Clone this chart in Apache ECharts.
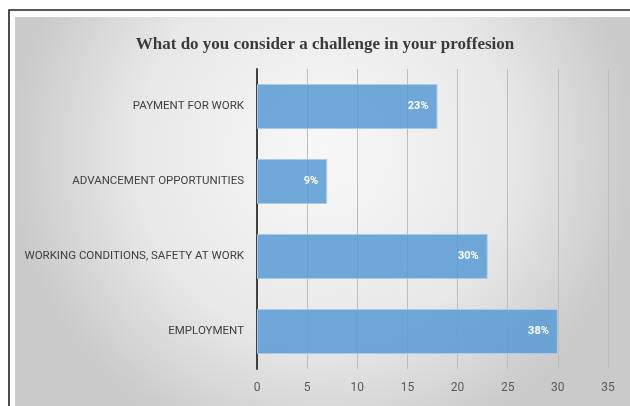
<!DOCTYPE html>
<html>
<head>
<meta charset="utf-8">
<script src="https://cdn.jsdelivr.net/npm/echarts@6/dist/echarts.min.js"></script>
<style>
  html, body { margin: 0; padding: 0; background: #ffffff; }
  #chart { width: 630px; height: 406px; }
</style>
</head>
<body>
<div id="chart"></div>
<script>
// Survey answers: how many respondents named each challenge
const categories = [
  'PAYMENT FOR WORK',
  'ADVANCEMENT OPPORTUNITIES',
  'WORKING CONDITIONS, SAFETY AT WORK',
  'EMPLOYMENT'
];
const counts = [18, 7, 23, 30];
// Share of all answers shown inside each bar
const shares = ['23%', '9%', '30%', '38%'];
const axisTicks = [0, 5, 10, 15, 20, 25, 30, 35];

const labelFont = 'Roboto, "DejaVu Sans Condensed", sans-serif';

const chart = echarts.init(document.getElementById('chart'), null, { renderer: 'canvas' });

chart.setOption({
  backgroundColor: '#ffffff',
  animation: false,
  graphic: [
    {
      type: 'rect',
      z: -10,
      silent: true,
      shape: { x: 15, y: 17, width: 615, height: 389 },
      style: {
        fill: {
          type: 'radial', x: 0.5, y: 0.35, r: 0.8,
          colorStops: [
            { offset: 0, color: '#f8f8f8' },
            { offset: 0.6, color: '#e8e8e8' },
            { offset: 1, color: '#cacaca' }
          ]
        }
      }
    },
    {
      type: 'polyline',
      z: -9,
      silent: true,
      shape: { points: [[9, 406], [9, 10], [630, 10]] },
      style: { stroke: '#222222', lineWidth: 1.6, fill: null }
    }
  ],
  title: {
    text: 'What do you consider a challenge in your proffesion',
    left: 320,
    top: 31,
    textAlign: 'center',
    textStyle: {
      fontFamily: 'Liberation Serif',
      fontWeight: 'bold',
      fontSize: 17,
      color: '#3a3a3a'
    }
  },
  grid: { left: 257, top: 69, width: 351, height: 300, containLabel: false },
  xAxis: {
    type: 'value',
    min: axisTicks[0],
    max: axisTicks[axisTicks.length - 1],
    interval: axisTicks[1] - axisTicks[0],
    axisLine: { show: false },
    axisTick: { show: false },
    splitLine: { show: true, lineStyle: { color: '#bdbdbd', width: 1 } },
    axisLabel: {
      color: '#595959',
      fontFamily: labelFont,
      fontSize: 12,
      margin: 13
    }
  },
  yAxis: {
    type: 'category',
    data: categories,
    inverse: true,
    axisLine: { show: true, lineStyle: { color: '#404040', width: 2 } },
    axisTick: { show: false },
    splitLine: { show: false },
    axisLabel: {
      color: '#404040',
      fontFamily: labelFont,
      fontSize: 11.5,
      margin: 13
    }
  },
  series: [
    {
      type: 'bar',
      data: counts,
      barWidth: '60%',
      z: 3,
      itemStyle: {
        color: 'rgba(91,155,213,0.86)',
        borderColor: '#a9cbea',
        borderWidth: 1
      },
      label: {
        show: true,
        position: 'insideRight',
        distance: 9,
        color: '#ffffff',
        fontFamily: labelFont,
        fontWeight: 'bold',
        fontSize: 11,
        formatter: p => shares[p.dataIndex]
      }
    }
  ]
});
</script>
</body>
</html>
